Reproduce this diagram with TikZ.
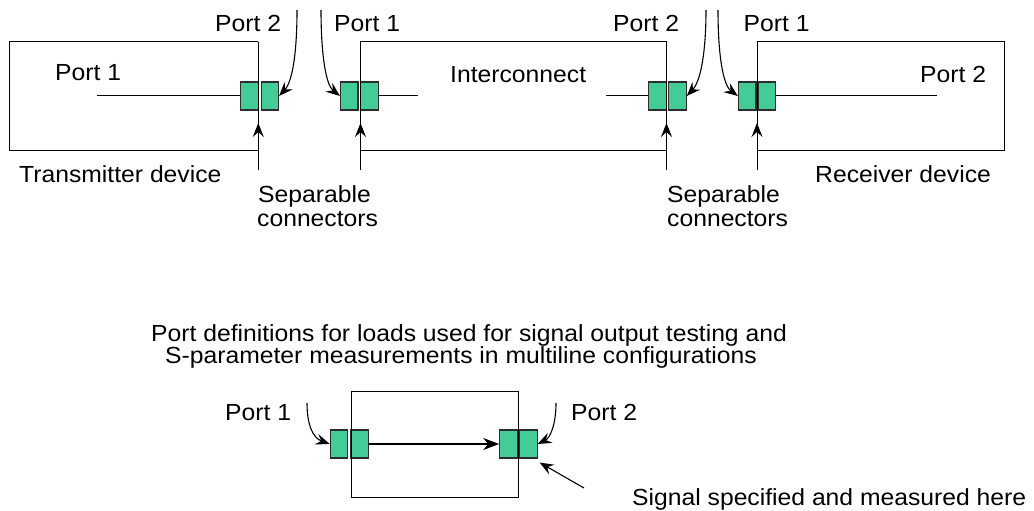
\documentclass[tikz,border=0pt]{standalone}
\usepackage{fontspec}
\setmainfont{Liberation Sans}[FakeStretch=1.06]
\usetikzlibrary{arrows.meta}
\definecolor{conngreen}{RGB}{67,204,151}
\definecolor{connedge}{RGB}{45,45,45}
\begin{document}
\begin{tikzpicture}[x=1pt,y=-1pt,
  every node/.style={font=\fontsize{23.3}{21.6}\selectfont},
  conn/.style={draw=connedge,fill=conngreen,line width=1.1pt,minimum width=17.5pt,minimum height=28pt,inner sep=0pt},
  outline/.style={line width=1pt},
  wire/.style={line width=1pt},
  tip/.style={-{Stealth[length=14pt,width=11pt,inset=5pt]}},
  pointer/.style={tip,line width=1.1pt},
  lbl/.style={anchor=base west,inner sep=0pt}]
\useasboundingbox (0,0) rectangle (1034,511);
% device outlines
\draw[outline] (258.3,42) -- (9.5,42) -- (9.5,150) -- (258.3,150);
\draw[outline] (360.5,42) rectangle (666.5,150);
\draw[outline] (757,42) -- (1004,42) -- (1004,150) -- (757,150);
% connectors
\node[conn] (j1a) at (249.6,96) {};
\node[conn] (j1b) at (269.8,96) {};
\node[conn] (j2a) at (349.2,96) {};
\node[conn] (j2b) at (369.3,96) {};
\node[conn] (j3a) at (657.4,96) {};
\node[conn] (j3b) at (677.5,96) {};
\node[conn] (j4a) at (747.2,96) {};
\node[conn] (j4b) at (767,96) {};
\draw[outline] (258.3,42) -- (258.3,150);
\draw[outline] (360.5,42) -- (360.5,150);
\draw[outline] (666.5,42) -- (666.5,150);
\draw[outline] (757,42) -- (757,150);
% wires
\coordinate (w1) at (97,96);
\coordinate (w2) at (418,96);
\coordinate (w3) at (606,96);
\coordinate (w4) at (937,96);
\draw[wire] (w1) -- (j1a.west);
\draw[wire] (j2b.east) -- (w2);
\draw[wire] (w3) -- (j3a.west);
\draw[wire] (j4b.east) -- (w4);
% separable arrows
\coordinate (s1) at (258.3,170); \coordinate (s1t) at (258.3,123);
\coordinate (s2) at (360.5,170); \coordinate (s2t) at (360.5,123);
\coordinate (s3) at (666.5,170); \coordinate (s3t) at (666.5,123);
\coordinate (s4) at (757,170); \coordinate (s4t) at (757,123);
\draw[pointer,line width=1pt] (s1) -- (s1t);
\draw[pointer,line width=1pt] (s2) -- (s2t);
\draw[pointer,line width=1pt] (s3) -- (s3t);
\draw[pointer,line width=1pt] (s4) -- (s4t);
% port pointers (top)
\coordinate (p1) at (297,10);
\coordinate (p2) at (321,10);
\coordinate (p3) at (706,10);
\coordinate (p4) at (718,10);
\draw[pointer] (p1) .. controls (297,55) and (292,82) .. (j1b.east);
\draw[pointer] (p2) .. controls (321,55) and (326,85) .. (j2a.west);
\draw[pointer] (p3) .. controls (706,55) and (700,82) .. (j3b.east);
\draw[pointer] (p4) .. controls (718,55) and (723,85) .. (j4a.west);
% labels top
\node[lbl] (l1) at (215,32) {Port 2};
\node[lbl] (l2) at (334,32) {Port 1};
\node[lbl] (l3) at (613,32) {Port 2};
\node[lbl] (l4) at (743.5,32) {Port 1};
\node[lbl] (l5) at (55,81) {Port 1};
\node[lbl] (l6) at (450,82.5) {Interconnect};
\node[lbl] (l7) at (920,82) {Port 2};
\node[lbl] (l8) at (19,182) {Transmitter device};
\node[lbl] (l9) at (815,182) {Receiver device};
\node[lbl] (sep1a) at (258,202.5) {Separable};
\node[lbl] (sep1b) at (257,226.5) {connectors};
\node[lbl] (sep2a) at (667,202.5) {Separable};
\node[lbl] (sep2b) at (667,226.5) {connectors};
% bottom
\node[lbl] (title1) at (151,341.7) {Port definitions for loads used for signal output testing and};
\node[lbl] (title2) at (165,363.3) {S-parameter measurements in multiline configurations};
\draw[outline] (351,391) rectangle (518.7,497);
\node[conn] (ba) at (339,444) {};
\node[conn] (bb) at (359.5,444) {};
\node[conn] (bc) at (508.5,444) {};
\node[conn] (bd) at (528.3,444) {};
\draw[outline] (351,391) -- (351,497);
\draw[outline] (518.7,391) -- (518.7,497);
\draw[line width=1.1pt,-{Stealth[length=16pt,width=12pt,inset=5pt]}] (bb.east) -- (bc.west);
\node[lbl] (bl1) at (225,420) {Port 1};
\node[lbl] (bl2) at (571,420) {Port 2};
\coordinate (q1) at (307,403);
\coordinate (q2) at (556,403);
\draw[pointer] (q1) .. controls (307,425) and (313,438) .. (ba.west);
\draw[pointer] (q2) .. controls (556,425) and (550,438) .. (bd.east);
\coordinate (q3) at (584,488);
\draw[pointer] (q3) -- ([xshift=2pt,yshift=-4pt]bd.south east);
\node[lbl] (sig) at (632,505) {Signal specified and measured here};
\end{tikzpicture}
\end{document}
